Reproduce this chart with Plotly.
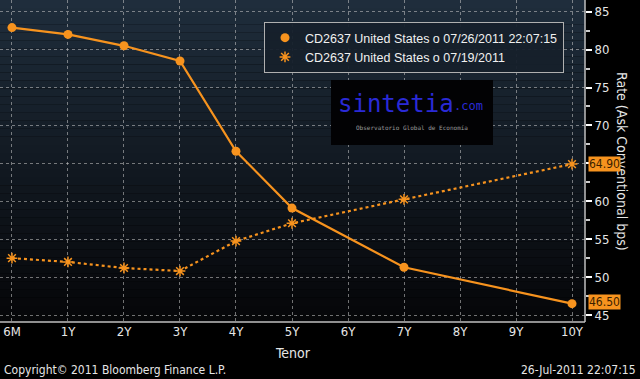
import plotly.graph_objects as go

tenors = ["6M", "1Y", "2Y", "3Y", "4Y", "5Y", "6Y", "7Y", "8Y", "9Y", "10Y"]
current_tenors = ["6M", "1Y", "2Y", "3Y", "4Y", "5Y", "7Y", "10Y"]
current_vals = [82.9, 82.0, 80.5, 78.5, 66.6, 59.1, 51.3, 46.50]
prior_tenors = ["6M", "1Y", "2Y", "3Y", "4Y", "5Y", "7Y", "10Y"]
prior_vals = [52.5, 52.0, 51.2, 50.8, 54.75, 57.1, 60.25, 64.90]
y_ticks = [45, 50, 55, 60, 65, 70, 75, 80, 85]
y_tick_labels = ["45", "50", "55", "60", "", "70", "75", "80", "85"]  # 65 is hidden by the last-value tag
series_names = ["CD2637 United States o 07/26/2011 22:07:15", "CD2637 United States o 07/19/2011"]

pos = {t: i for i, t in enumerate(tenors)}
ORANGE = "#f7931e"
FONT = "Liberation Sans Narrow, DejaVu Sans Condensed, Arial Narrow, sans-serif"

PW, PH = 585.0, 322.0  # plot area size in pixels

fig = go.Figure()
# lines (no legend)
fig.add_trace(go.Scatter(
    x=[pos[t] for t in current_tenors], y=current_vals, name=series_names[0],
    mode="lines", line=dict(color=ORANGE, width=2.2), showlegend=False, legendgroup="a"))
fig.add_trace(go.Scatter(
    x=[pos[t] for t in prior_tenors], y=prior_vals, name=series_names[1],
    mode="lines", line=dict(color=ORANGE, width=2.2, dash="dot"), showlegend=False, legendgroup="b"))
# markers (legend)
fig.add_trace(go.Scatter(
    x=[pos[t] for t in current_tenors], y=current_vals, name=series_names[0],
    mode="markers", marker=dict(symbol="circle", size=9, color=ORANGE), legendgroup="a"))
fig.add_trace(go.Scatter(
    x=[pos[t] for t in prior_tenors], y=prior_vals, name=series_names[1],
    mode="markers", legendgroup="b",
    marker=dict(symbol="asterisk-open", size=9, color=ORANGE, line=dict(color=ORANGE, width=1.5))))

# gradient background of plot area
n = 40
top = (31, 45, 60)
bot = (6, 7, 9)
shapes = []
for i in range(n):
    f = i / (n - 1)
    c = tuple(int(top[k] + (bot[k] - top[k]) * f) for k in range(3))
    shapes.append(dict(type="rect", xref="paper", yref="paper", x0=0, x1=1,
                       y0=1 - (i + 1) / n, y1=1 - i / n, layer="below",
                       fillcolor="rgb(%d,%d,%d)" % c, line=dict(width=0)))
# watermark box
shapes.append(dict(type="rect", xref="paper", yref="paper",
                   x0=331 / PW, x1=493 / PW, y0=1 - 145 / PH, y1=1 - 80 / PH,
                   fillcolor="#020204", line=dict(width=0), layer="above"))
# axis frame lines (right and bottom)
shapes.append(dict(type="line", xref="paper", yref="paper", x0=1, x1=1, y0=0, y1=1,
                   line=dict(color="#bfbfbf", width=1.5)))
shapes.append(dict(type="line", xref="paper", yref="paper", x0=0, x1=1, y0=0, y1=0,
                   line=dict(color="#bfbfbf", width=1.5)))

annotations = [
    dict(text="Tenor", xref="paper", yref="paper", x=293 / PW, y=-31 / PH,
         showarrow=False, font=dict(family=FONT, size=14, color="#e6e6e6"), yanchor="middle"),
    dict(text="Copyright© 2011 Bloomberg Finance L.P.", xref="paper", yref="paper",
         x=2 / PW, y=-48 / PH, xanchor="left", yanchor="middle", showarrow=False,
         font=dict(family=FONT, size=12, color="#e6e6e6")),
    dict(text="26-Jul-2011 22:07:15", xref="paper", yref="paper",
         x=638 / PW, y=-48 / PH, xanchor="right", yanchor="middle", showarrow=False,
         font=dict(family=FONT, size=12, color="#e6e6e6")),
    dict(text="Rate (Ask Conventional bps)", xref="paper", yref="paper",
         x=632 / PW, y=0.5, textangle=90, showarrow=False,
         font=dict(family=FONT, size=14, color="#e6e6e6")),
    dict(text="64.90", xref="paper", yref="y", x=1, y=prior_vals[-1], xanchor="left",
         xshift=3, showarrow=False, bgcolor=ORANGE, borderpad=0,
         font=dict(family=FONT, size=12, color="#3a1f00")),
    dict(text="46.50", xref="paper", yref="y", x=1, y=current_vals[-1], xanchor="left",
         xshift=3, yshift=2, showarrow=False, bgcolor=ORANGE, borderpad=0,
         font=dict(family=FONT, size=12, color="#3a1f00")),
    dict(text="sintetia", xref="paper", yref="paper",
         x=336 / PW, y=1 - 104 / PH, xanchor="left", yanchor="middle", showarrow=False,
         font=dict(family="DejaVu Sans Mono, monospace", size=24, color="#2a2ad6")),
    dict(text=".com", xref="paper", yref="paper",
         x=452 / PW, y=1 - 106 / PH, xanchor="left", yanchor="middle", showarrow=False,
         font=dict(family="DejaVu Sans Mono, monospace", size=12, color="#2a2ad6")),
    dict(text="Observatorio Global de Economía", xref="paper", yref="paper",
         x=412 / PW, y=1 - 127 / PH, xanchor="center", yanchor="middle", showarrow=False,
         font=dict(family="DejaVu Sans Mono, monospace", size=6, color="#9a9a9a")),
]

fig.update_layout(
    width=640, height=379,
    margin=dict(l=0, r=55, t=0, b=57, pad=0),
    paper_bgcolor="#000000", plot_bgcolor="#000000",
    showlegend=True,
    legend=dict(x=264 / PW, y=1 - 22 / PH, xanchor="left", yanchor="top",
                bgcolor="rgba(22,32,43,0.95)", bordercolor="#b0b0b0", borderwidth=1,
                font=dict(family="Liberation Sans, Arial, sans-serif", size=12.5, color="#f0f0f0"),
                tracegroupgap=0, itemwidth=30),
    shapes=shapes, annotations=annotations,
    xaxis=dict(range=[-0.214, 10.232], tickmode="array", tickvals=list(range(len(tenors))),
               ticktext=tenors, showgrid=True, gridcolor="rgba(200,200,200,0.55)",
               griddash="dot", gridwidth=1, zeroline=False, showline=False, automargin=False,
               ticks="", tickfont=dict(family=FONT, size=13, color="#e6e6e6")),
    yaxis=dict(side="right", range=[44.08, 86.54], tickmode="array", tickvals=y_ticks,
               ticktext=y_tick_labels, showgrid=True, gridcolor="rgba(200,200,200,0.55)",
               griddash="dot", gridwidth=1, zeroline=False, showline=False, automargin=False,
               ticks="outside", ticklen=6, tickcolor="#ffffff", tickwidth=2,
               minor=dict(dtick=2.5, ticks="outside", ticklen=4, tickcolor="#cccccc", showgrid=False),
               tickfont=dict(family=FONT, size=13, color="#e6e6e6")),
)

fig.write_html("out.html", config={"displayModeBar": False},
               post_script="document.body.style.margin='0px';document.body.style.background='#000';")
